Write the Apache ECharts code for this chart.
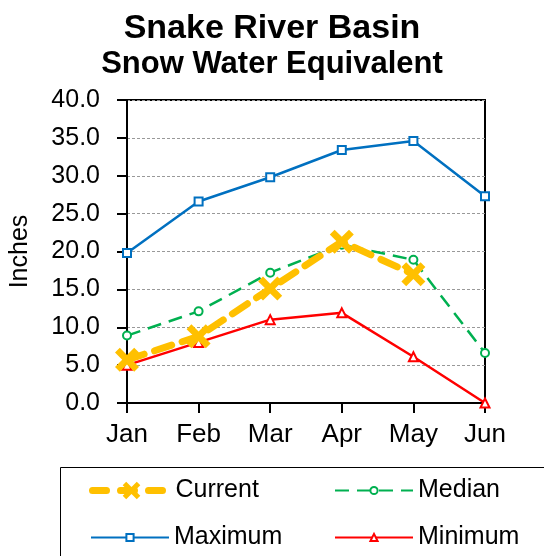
<!DOCTYPE html>
<html lang="en">
<head>
    <meta charset="UTF-8">
    <script type="text/javascript" src="https://cdn.jsdelivr.net/npm/echarts@6/dist/echarts.min.js"></script>
    <title>Snake River Basin</title>
    <style>
        html, body { margin: 0; padding: 0; background: #fff; }
        #main { width: 544px; height: 556px; }
    </style>
</head>
<body>
    <div id="main"></div>
</body>
</html>
<script>
    var months = ['Jan', 'Feb', 'Mar', 'Apr', 'May', 'Jun'];
    var current = [5.7, 8.8, 15.1, 21.3, 17.0, null];
    var median = [8.9, 12.1, 17.2, 20.9, 18.9, 6.6];
    var maximum = [19.8, 26.6, 29.8, 33.4, 34.6, 27.3];
    var minimum = [5.0, 8.0, 11.0, 11.9, 6.1, 0.0];

    var font = 'Arial, "Liberation Sans", sans-serif';
    // fat "x" marker
    var crossIcon = 'path://M0,2 L2,0 L5,3 L8,0 L10,2 L7,5 L10,8 L8,10 L5,7 L2,10 L0,8 L3,5 Z';
    var legendText = { fontFamily: font, fontSize: 25, color: '#000' };

    // one legend per item so the 2x2 columns line up
    function legendAt(name, left, top, h, extra) {
        var l = {
            left: left,
            top: top,
            itemWidth: 78,
            itemHeight: h,
            itemGap: 0,
            textStyle: legendText,
            data: [name]
        };
        for (var k in extra) l[k] = extra[k];
        return l;
    }

    var myChart = echarts.init(document.getElementById('main'));
    myChart.setOption({
        animation: false,
        backgroundColor: '#fff',
        title: [{
            text: 'Snake River Basin',
            left: 'center',
            top: 7,
            textStyle: { fontFamily: font, fontSize: 34, fontWeight: 'bold', color: '#000' }
        }, {
            text: 'Snow Water Equivalent',
            left: 'center',
            top: 44,
            textStyle: { fontFamily: font, fontSize: 31, fontWeight: 'bold', color: '#000' }
        }],
        graphic: [{
            type: 'rect',
            shape: { x: 60.5, y: 467.5, width: 500, height: 100 },
            style: { fill: 'none', stroke: '#000', lineWidth: 1 }
        }],
        legend: [
            legendAt('Current', 84, 473, 22, { lineStyle: { width: 7, type: [14, 14] } }),
            legendAt('Median', 329, 473, 9, {}),
            legendAt('Maximum', 85, 520, 9, {}),
            legendAt('Minimum', 329, 520, 9, {})
        ],
        grid: {
            left: 126,
            right: 59,
            top: 100,
            bottom: 153,
            show: true,
            borderColor: '#000',
            borderWidth: 2
        },
        xAxis: {
            type: 'category',
            boundaryGap: false,
            data: months,
            axisLine: { lineStyle: { color: '#000', width: 2 } },
            axisTick: { length: 10, lineStyle: { color: '#000', width: 2 } },
            axisLabel: { fontFamily: font, fontSize: 26, color: '#000', margin: 19 },
            splitLine: { show: false }
        },
        yAxis: {
            type: 'value',
            min: 0,
            max: 40,
            interval: 5,
            name: 'Inches',
            nameLocation: 'middle',
            nameGap: 94,
            nameTextStyle: { fontFamily: font, fontSize: 25, color: '#000' },
            axisLine: { show: true, lineStyle: { color: '#000', width: 2 } },
            axisTick: { show: true, length: 10, lineStyle: { color: '#000', width: 2 } },
            axisLabel: {
                fontFamily: font, fontSize: 25, color: '#000', margin: 27,
                formatter: function (v) { return v.toFixed(1); }
            },
            splitLine: { lineStyle: { color: '#999', type: [3, 2], width: 1 } }
        },
        series: [{
            name: 'Current',
            type: 'line',
            data: current,
            color: '#FFC000',
            symbol: crossIcon,
            symbolSize: 24,
            z: 4,
            lineStyle: { width: 7, type: [18, 11], cap: 'round' },
            itemStyle: { color: '#FFC000' }
        }, {
            name: 'Median',
            type: 'line',
            data: median,
            color: '#00B050',
            symbol: 'emptyCircle',
            symbolSize: 8,
            z: 3,
            lineStyle: { width: 2.5, type: [14, 8] },
            itemStyle: { color: '#00B050', borderWidth: 1.5 }
        }, {
            name: 'Maximum',
            type: 'line',
            data: maximum,
            color: '#0070C0',
            symbol: 'emptyRect',
            symbolSize: 8,
            z: 2,
            lineStyle: { width: 2.5 },
            itemStyle: { color: '#0070C0', borderWidth: 1.5 }
        }, {
            name: 'Minimum',
            type: 'line',
            data: minimum,
            color: '#FF0000',
            symbol: 'emptyTriangle',
            symbolSize: 9,
            z: 2,
            lineStyle: { width: 2.5 },
            itemStyle: { color: '#FF0000', borderWidth: 1.5 }
        }]
    });
</script>
